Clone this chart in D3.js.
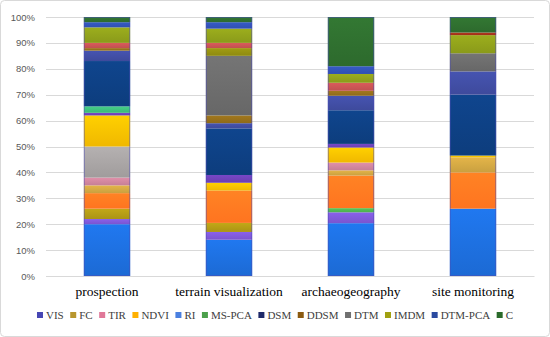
<!DOCTYPE html>
<html>
<head>
<meta charset="utf-8">
<script src="https://cdn.jsdelivr.net/npm/d3@7"></script>
<style>
  body { margin: 0; background: #fff; }
  svg { display: block; }
</style>
</head>
<body>
<script>
// data (percent of each bar, bottom to top)
let categories = ['prospection', 'terrain visualization', 'archaeogeography', 'site monitoring']

let bands = ['RI', 'VIS', 'MS-PCA', 'FC', 'NDVI', 'gold', 'TIR', 'lightgray', 'yellow', 'purple2',
             'green2', 'DSM', 'DTM-PCA', 'DDSM', 'DTM', 'olive2', 'pink2', 'IMDM', 'blue2', 'red2', 'C']

let prospection = [20, 2, 0, 4, 6, 3, 3, 12, 12, 1, 2.5, 17.5, 4, 1, 0, 0, 2, 6, 2, 0, 2]
let terrain     = [14, 3, 0, 3.5, 12.5, 0, 0, 0, 3, 3, 0, 18, 2, 3, 23, 3, 2, 5.5, 2.5, 0, 2]
let archaeo     = [20.4, 4.2, 1.6, 0, 12.6, 2, 3, 0, 5.8, 1.4, 0, 13, 5.6, 1.9, 0, 0, 3.1, 3.4, 3, 0, 19]
let monitoring  = [26, 0, 0, 0, 14, 5.8, 0, 0, 0.7, 0, 0, 23.5, 9, 0, 7, 0, 0, 7, 0, 1, 6]

let legendNames = ['VIS', 'FC', 'TIR', 'NDVI', 'RI', 'MS-PCA', 'DSM', 'DDSM', 'DTM', 'IMDM', 'DTM-PCA', 'C']
let yTicks = [0, 0.1, 0.2, 0.3, 0.4, 0.5, 0.6, 0.7, 0.8, 0.9, 1]

// colours
let bandColors = ['#1c6ad4', '#7a55cf', '#4caf50', '#ab9414', '#ff7420', '#c9a040', '#c67f96', '#a09c9c',
                  '#f0b800', '#6a3fb0', '#3cb878', '#0d3d7d', '#3e4a9c', '#8f6a1a', '#676767', '#8e8a10',
                  '#c05050', '#8a9a1a', '#3050b0', '#a0301a', '#2d6a2d']
let legendColors = ['#4646b4', '#b8962e', '#e07898', '#ffb000', '#4a80e0', '#4ca04c',
                    '#1f2a6a', '#8b5a10', '#707070', '#a0a010', '#2a4aa0', '#2a6a2a']

let W = 550, H = 337
let margin = { top: 17, bottom: 61, left: 46, right: 16 }

let rows = categories.map((c, i) => {
    let vals = [prospection, terrain, archaeo, monitoring][i]
    let row = { cat: c }
    bands.forEach((b, j) => row[b] = vals[j])
    return row
})

let series = d3.stack()
    .keys(bands)
    .offset(d3.stackOffsetExpand)(rows)

let x = d3.scaleBand()
    .domain(categories)
    .range([margin.left, W - margin.right])
    .paddingInner(0.62)
    .paddingOuter(0.31)

let y = d3.scaleLinear()
    .domain([0, 1])
    .range([H - margin.bottom, margin.top])

let svg = d3.select('body')
    .append('svg')
    .attr('width', W)
    .attr('height', H)

svg.append('rect')
    .attr('x', 0.5).attr('y', 0.5)
    .attr('width', W - 1).attr('height', H - 1)
    .attr('rx', 4)
    .attr('fill', '#fff')
    .attr('stroke', '#d9d9d9')

// gradient per band, lighter on top
let defs = svg.append('defs')
bands.forEach((b, i) => {
    let g = defs.append('linearGradient')
        .attr('id', 'g' + i)
        .attr('x1', 0).attr('y1', 0).attr('x2', 0).attr('y2', 1)
    g.append('stop').attr('offset', '0%').attr('stop-color', d3.color(bandColors[i]).brighter(0.35))
    g.append('stop').attr('offset', '100%').attr('stop-color', bandColors[i])
})

// grid
svg.append('g')
    .attr('class', 'grid')
    .selectAll('line')
    .data(yTicks)
    .enter()
    .append('line')
    .attr('x1', margin.left)
    .attr('x2', W - margin.right)
    .attr('y1', d => Math.round(y(d)) + 0.5)
    .attr('y2', d => Math.round(y(d)) + 0.5)
    .attr('stroke', '#d9d9d9')

// y axis labels
let yAxis = svg.append('g')
    .attr('transform', 'translate(' + (margin.left - 8) + ',0)')
    .call(d3.axisLeft(y).tickValues(yTicks).tickFormat(d3.format('.0%')).tickSize(0))
yAxis.select('.domain').remove()
yAxis.selectAll('text')
    .attr('fill', '#595959')
    .style('font-family', '"Liberation Sans", Arial, sans-serif')
    .style('font-size', '9.5px')

// bars
svg.append('g')
    .selectAll('g')
    .data(series)
    .enter()
    .append('g')
    .attr('fill', (d, i) => 'url(#g' + i + ')')
    .selectAll('rect')
    .data(d => d)
    .enter()
    .append('rect')
    .attr('x', d => x(d.data.cat))
    .attr('width', x.bandwidth())
    .attr('y', d => y(d[1]))
    .attr('height', d => y(d[0]) - y(d[1]))

// thin outline round each bar
svg.append('g')
    .selectAll('rect')
    .data(categories)
    .enter()
    .append('rect')
    .attr('x', d => x(d) + 0.5)
    .attr('y', y(1) + 0.5)
    .attr('width', x.bandwidth() - 1)
    .attr('height', y(0) - y(1) - 1)
    .attr('fill', 'none')
    .attr('stroke', '#4b4bb8')
    .attr('stroke-opacity', 0.5)

// category labels
let xAxis = svg.append('g')
    .attr('transform', 'translate(0,' + y(0) + ')')
    .call(d3.axisBottom(x).tickSize(0).tickPadding(10))
xAxis.select('.domain').attr('stroke', '#d9d9d9')
xAxis.selectAll('text')
    .attr('fill', '#000')
    .style('font-family', '"Palatino Linotype", "Book Antiqua", Palatino, "Liberation Serif", serif')
    .style('font-size', '13.5px')

// legend
let legend = svg.append('g')
    .attr('transform', 'translate(0,319)')
let items = legend.selectAll('g')
    .data(legendNames)
    .enter()
    .append('g')
items.append('rect')
    .attr('y', -7)
    .attr('width', 6)
    .attr('height', 6)
    .attr('fill', (d, i) => legendColors[i])
items.append('text')
    .attr('x', 9)
    .text(d => d)
    .attr('fill', '#404040')
    .style('font-family', '"Palatino Linotype", "Book Antiqua", Palatino, "Liberation Serif", serif')
    .style('font-size', '11px')

let gap = 6.5
let pos = 0
items.each(function() {
    let w = 9 + this.querySelector('text').getComputedTextLength()
    d3.select(this).attr('data-x', pos)
    pos += w + gap
})
let start = (W - (pos - gap)) / 2
items.attr('transform', function() { return 'translate(' + (start + +this.getAttribute('data-x')) + ',0)' })
</script>
</body>
</html>
